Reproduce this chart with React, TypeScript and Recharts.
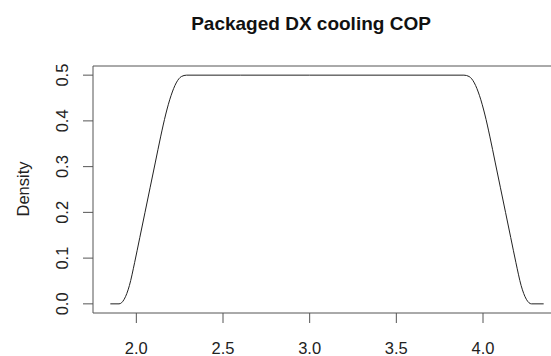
import { Line, LineChart, ReferenceLine, XAxis, YAxis } from 'recharts';

// density estimate
const cop = [
  1.85, 1.9, 1.93, 1.96, 1.99, 2.02, 2.05, 2.08, 2.11, 2.14, 2.17, 2.2, 2.23, 2.26, 2.29,
  2.6, 3.0, 3.4, 3.89, 3.92, 3.95, 3.98, 4.01, 4.04, 4.07, 4.1, 4.13, 4.16, 4.19, 4.22, 4.25,
  4.28, 4.35,
];
const density = [
  0, 0, 0.01, 0.04, 0.09, 0.145, 0.2, 0.255, 0.31, 0.365, 0.415, 0.455, 0.483, 0.497, 0.5,
  0.5, 0.5, 0.5, 0.5, 0.497, 0.483, 0.455, 0.415, 0.365, 0.31, 0.255, 0.2, 0.145, 0.09, 0.04,
  0.01, 0, 0,
];
const xTicks = [2.0, 2.5, 3.0, 3.5, 4.0];
const yTicks = [0.0, 0.1, 0.2, 0.3, 0.4, 0.5];

const data = cop.map((x, i) => ({ x, y: density[i] }));

const FONT = '"Liberation Sans", Arial, Helvetica, sans-serif';
const AXIS = '#555';

// biome-ignore lint/suspicious/noExplicitAny: recharts tick props
function XTick(props: any) {
  const { x, payload } = props;
  return (
    <text x={x} y={354} textAnchor="middle" fontSize={16.5} fontFamily={FONT} fill="#222">
      {payload.value.toFixed(1)}
    </text>
  );
}

// biome-ignore lint/suspicious/noExplicitAny: recharts tick props
function YTick(props: any) {
  const { y, payload } = props;
  return (
    <text
      x={68}
      y={y}
      transform={`rotate(-90 68 ${y})`}
      textAnchor="middle"
      fontSize={16.5}
      fontFamily={FONT}
      fill="#222"
    >
      {payload.value.toFixed(1)}
    </text>
  );
}

export default function App() {
  return (
    <div
      style={{
        position: 'fixed',
        left: 0,
        top: 0,
        width: 551,
        height: 356,
        overflow: 'hidden',
        background: '#fff',
      }}
    >
      <LineChart
        width={600}
        height={356}
        data={data}
        margin={{ top: 66, right: 39, bottom: 0, left: 0 }}
      >
        <text
          x={311}
          y={30}
          textAnchor="middle"
          fontSize={19}
          fontWeight="bold"
          fontFamily={FONT}
          fill="#111"
        >
          Packaged DX cooling COP
        </text>
        <text
          x={29}
          y={189}
          transform="rotate(-90 29 189)"
          textAnchor="middle"
          fontSize={16.5}
          fontFamily={FONT}
          fill="#222"
        >
          Density
        </text>
        <XAxis
          dataKey="x"
          type="number"
          domain={[1.75, 4.45]}
          ticks={xTicks}
          height={43}
          tickSize={10}
          tickLine={{ stroke: AXIS }}
          axisLine={{ stroke: AXIS }}
          tick={<XTick />}
          interval={0}
        />
        <YAxis
          type="number"
          domain={[-0.02, 0.52]}
          ticks={yTicks}
          width={93}
          tickSize={10}
          tickLine={{ stroke: AXIS }}
          axisLine={{ stroke: AXIS }}
          tick={<YTick />}
          interval={0}
        />
        <ReferenceLine y={0.52} stroke={AXIS} />
        <ReferenceLine x={4.45} stroke={AXIS} />
        <Line
          dataKey="y"
          type="monotone"
          stroke="#222"
          strokeWidth={1}
          dot={false}
          isAnimationActive={false}
        />
      </LineChart>
    </div>
  );
}
